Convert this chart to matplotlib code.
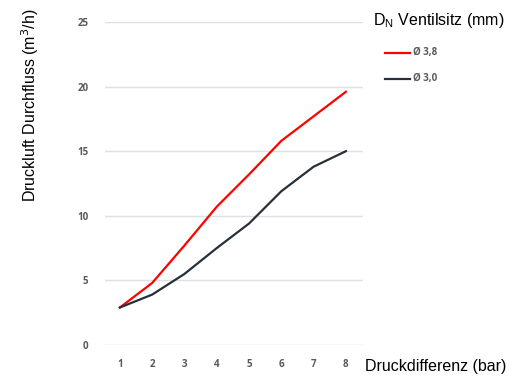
import matplotlib.pyplot as plt

plt.rcParams['font.family'] = ['Liberation Sans', 'DejaVu Sans']

druck = [1, 2, 3, 4, 5, 6, 7, 8]
flow_38 = [2.9, 4.8, 7.7, 10.7, 13.2, 15.8, 17.7, 19.6]
flow_30 = [2.9, 3.9, 5.5, 7.5, 9.4, 11.9, 13.8, 15.0]
labels = ["Ø 3,8", "Ø 3,0"]

fig = plt.figure(figsize=(5.12, 3.82), dpi=100)
ax = fig.add_axes([105 / 512, 1 - 345 / 382, 258 / 512, 323 / 382])

ax.plot(druck, flow_38, color='#ff0000', lw=1.6)
ax.plot(druck, flow_30, color='#262f3a', lw=1.6)

ax.set_xlim(0.54, 8.53)
ax.set_ylim(0, 25)
ax.set_yticks([0, 5, 10, 15, 20, 25])
ax.set_xticks(druck)
ax.grid(axis='y', color='#e0e0e0', lw=1)
ax.set_axisbelow(True)
for s in ax.spines.values():
    s.set_visible(False)
ax.tick_params(length=0, labelcolor='#595959', pad=10)
ax.tick_params(axis='y', pad=12)
for t in ax.get_xticklabels() + ax.get_yticklabels():
    t.set_fontweight('bold')
    t.set_fontfamily('Open Sans')
    t.set_fontsize(7)

fig.text(30 / 512, 1 - 105 / 382, "Druckluft Durchfluss (m$^3$/h)", rotation=90,
         ha='center', va='center', fontsize=11.5)
fig.text(365 / 512, 1 - 367 / 382, "Druckdifferenz (bar)", ha='left', va='center', fontsize=11.5)
fig.text(373 / 512, 1 - 20 / 382, "D$_\\mathregular{N}$ Ventilsitz (mm)", ha='left', va='center', fontsize=11.5)

# legend drawn by hand
for i, (lab, col) in enumerate(zip(labels, ['#ff0000', '#262f3a'])):
    y = 1 - (53 + 26 * i) / 382
    fig.add_artist(plt.Line2D([385 / 512, 410 / 512], [y, y], color=col, lw=1.6))
    fig.text(413 / 512, y, lab, ha='left', va='center', fontsize=7,
             color='#595959', fontweight='bold', fontfamily='Open Sans')

fig.savefig('out.png', dpi=100)
